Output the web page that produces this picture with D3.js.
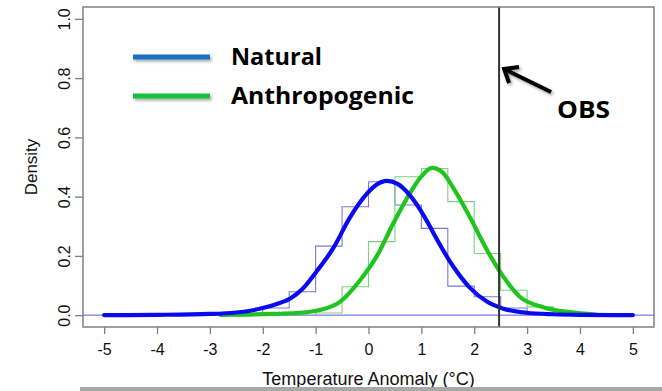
<!DOCTYPE html>
<html><head><meta charset="utf-8">
<script src="https://cdn.jsdelivr.net/npm/d3@7"></script>
<style>body{margin:0;background:#fff}svg{display:block}</style>
</head><body>
<svg id="c" width="662" height="391"></svg>
<script>
// ---- data ----
const xTicks = [-5,-4,-3,-2,-1,0,1,2,3,4,5];
const yTicks = [0.0,0.2,0.4,0.6,0.8,1.0];
const binWidth = 0.5;
const naturalBins = [-2.0,-1.5,-1.0,-0.5,0.0,0.5,1.0,1.5,2.0,2.5,3.0];
const naturalHist = [0.024,0.079,0.233,0.366,0.450,0.372,0.293,0.098,0.062,0.024,0.005];
const anthroBins = [-1.0,-0.5,0.0,0.5,1.0,1.5,2.0,2.5,3.0,3.5];
const anthroHist = [0.007,0.096,0.248,0.467,0.495,0.383,0.208,0.084,0.028,0.004];
const naturalX = [-5,-4,-3,-2.5,-2.24,-2,-1.75,-1.48,-1.25,-0.98,-0.67,-0.35,-0.03,0.15,0.35,0.55,0.78,0.97,1.16,1.29,1.6,1.92,2.24,2.55,2.99,3.5,4,5];
const naturalY = [0.000,0.001,0.004,0.009,0.015,0.024,0.037,0.056,0.088,0.148,0.225,0.330,0.410,0.440,0.453,0.443,0.405,0.358,0.300,0.257,0.165,0.092,0.046,0.022,0.008,0.003,0.001,0.000];
const anthroX = [-2.8,-2.24,-1.8,-1.29,-0.9,-0.54,-0.16,0.16,0.47,0.78,1.0,1.2,1.4,1.6,1.92,2.24,2.55,2.86,3.3,3.8,4.3];
const anthroY = [0.001,0.002,0.004,0.008,0.018,0.045,0.118,0.200,0.310,0.410,0.468,0.497,0.482,0.430,0.330,0.220,0.130,0.062,0.027,0.010,0.002];
const obsValue = 2.47;
const seriesNames = ["Natural","Anthropogenic"];

// ---- drawing ----
const svg = d3.select("#c");
const x = d3.scaleLinear().domain([-5.4,5.4]).range([83,654]);
const y = d3.scaleLinear().domain([-0.04,1.04]).range([327,7]);
const axisFont = "Liberation Sans, Arial, sans-serif";
const annoFont = "'Open Sans', Lato, sans-serif";

const defs = svg.append("defs");
const f = defs.append("filter").attr("id","sh").attr("filterUnits","userSpaceOnUse")
  .attr("x",0).attr("y",0).attr("width",662).attr("height",391);
f.append("feDropShadow").attr("dx",1.5).attr("dy",2).attr("stdDeviation",1.5).attr("flood-color","#000").attr("flood-opacity",0.35);

// baseline
svg.append("line").attr("x1",x(-5.4)).attr("x2",x(5.4)).attr("y1",y(0)).attr("y2",y(0))
  .attr("stroke","#5a5ae0").attr("stroke-width",1);

function stepPath(bins, dens){
  let p = `M${x(bins[0])},${y(0)}`;
  bins.forEach((b,i)=>{ p += `V${y(dens[i])}H${x(b+binWidth)}`; });
  return p + `V${y(0)}`;
}
svg.append("path").attr("d",stepPath(naturalBins,naturalHist)).attr("fill","none").attr("stroke","#7a7ad8").attr("stroke-width",1.1);
svg.append("path").attr("d",stepPath(anthroBins,anthroHist)).attr("fill","none").attr("stroke","#7fd07f").attr("stroke-width",1.1);

const line = d3.line().x(d=>x(d[0])).y(d=>y(d[1])).curve(d3.curveMonotoneX);
svg.append("path").datum(anthroX.map((v,i)=>[v,anthroY[i]])).attr("d",line)
  .attr("fill","none").attr("stroke","#1fc41f").attr("stroke-width",4.2).attr("stroke-linecap","round");
svg.append("path").datum(naturalX.map((v,i)=>[v,naturalY[i]])).attr("d",line)
  .attr("fill","none").attr("stroke","#0a0af0").attr("stroke-width",4.2).attr("stroke-linecap","round");

// OBS line
svg.append("line").attr("x1",x(obsValue)).attr("x2",x(obsValue)).attr("y1",y(1.04)).attr("y2",y(-0.04))
  .attr("stroke","#333").attr("stroke-width",2);

// box
svg.append("rect").attr("x",x(-5.4)).attr("y",y(1.04)).attr("width",x(5.4)-x(-5.4)).attr("height",y(-0.04)-y(1.04))
  .attr("fill","none").attr("stroke","#808080").attr("stroke-width",1.5);

const hyphenFmt = d => String(d).replace("\u2212","-");

// x axis
const gx = svg.append("g").attr("transform",`translate(0,${y(-0.04)})`)
  .call(d3.axisBottom(x).tickValues(xTicks).tickSize(7).tickPadding(10).tickFormat(d => (d<0?"-":"") + Math.abs(d)));
gx.select(".domain").remove();
gx.selectAll("line").attr("stroke","#808080").attr("stroke-width",1.3);
gx.selectAll("text").attr("font-family",axisFont).attr("font-size",16).attr("fill","#111");

// y axis
const gy = svg.append("g").attr("transform",`translate(${x(-5.4)},0)`)
  .call(d3.axisLeft(y).tickValues(yTicks).tickSize(8).tickFormat(d3.format(".1f")));
gy.select(".domain").remove();
gy.selectAll("line").attr("stroke","#808080").attr("stroke-width",1.3);
gy.selectAll("text").attr("font-family",axisFont).attr("font-size",16).attr("fill","#111")
  .attr("text-anchor","middle").attr("x",0).attr("dy",0)
  .attr("transform","translate(-13,0) rotate(-90)");

// axis titles
svg.append("text").attr("x",x(0)).attr("y",385).attr("text-anchor","middle")
  .attr("font-family",axisFont).attr("font-size",18).attr("fill","#111")
  .text("Temperature Anomaly (°C)");
svg.append("text").attr("transform",`translate(37,${(y(0)+y(1))/2}) rotate(-90)`).attr("text-anchor","middle")
  .attr("font-family",axisFont).attr("font-size",17).attr("fill","#111")
  .text("Density");

// legend
const legColors = ["#1a6fc4","#16c23a"];
const legY = [57,96];
const legW = [91,183];
seriesNames.forEach((n,i)=>{
  svg.append("rect").attr("x",133).attr("width",77).attr("y",legY[i]-2.5).attr("height",5)
    .attr("fill",legColors[i]).attr("filter","url(#sh)");
  svg.append("text").attr("x",231).attr("y",legY[i]+8).attr("font-family",annoFont)
    .attr("font-weight","bold").attr("font-size",23).attr("fill","#000")
    .attr("textLength",legW[i]).attr("lengthAdjust","spacingAndGlyphs").text(n);
});

// OBS annotation
const tipX = x(obsValue)+5, tipY = 69;
const ag = svg.append("g").attr("filter","url(#sh)").attr("stroke","#000").attr("stroke-width",4).attr("fill","none");
ag.append("line").attr("x1",tipX+47).attr("y1",tipY+23).attr("x2",tipX+2).attr("y2",tipY+1);
ag.append("path").attr("d",`M${tipX+5},${tipY+14} L${tipX},${tipY} L${tipX+15},${tipY-2}`).attr("stroke-linejoin","miter");
svg.append("text").attr("x",557).attr("y",118).attr("font-family",annoFont)
  .attr("font-weight","bold").attr("font-size",23).attr("fill","#000")
  .attr("textLength",53).attr("lengthAdjust","spacingAndGlyphs").text("OBS");

// bottom gray bar
svg.append("rect").attr("x",80).attr("y",387).attr("width",582).attr("height",4).attr("fill","#a8a8a8");
</script>
</body></html>
